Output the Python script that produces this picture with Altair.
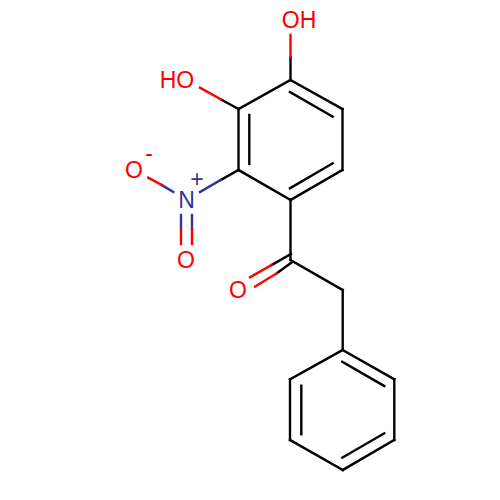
import altair as alt
import pandas as pd

BLACK, RED, NAVY = "#000000", "#ff0000", "#33339a"

# bond segments: x1, y1, x2, y2, colour
ring_a = [
    (290.5, 80, 342.5, 109, BLACK), (342.5, 109, 342.5, 170, BLACK),
    (342.5, 170, 290.5, 200, BLACK), (290.5, 200, 238.5, 170, BLACK),
    (238.5, 170, 238.5, 109, BLACK), (238.5, 109, 290.5, 80, BLACK),
    (290, 92, 332.7, 116.7, BLACK), (332.7, 163.3, 290, 188.3, BLACK),
    (249.3, 115, 249.3, 164, BLACK),
]
hydroxyls = [
    (290.5, 80, 290.5, 57, BLACK), (290.5, 57, 290.5, 35, RED),
    (238.5, 109, 220.7, 99.3, BLACK), (220.7, 99.3, 200, 87.7, RED),
]
nitro = [
    (238.5, 170, 220.7, 180, BLACK), (220.7, 180, 200, 192, NAVY),
    (173.3, 192, 161.7, 185, NAVY), (161.7, 185, 148.3, 177.7, RED),
    (181, 215, 181, 229.3, NAVY), (181, 229.3, 181, 244, RED),
    (192, 215, 192, 229.3, NAVY), (192, 229.3, 192, 244, RED),
]
linker = [
    (290.5, 200, 290.5, 260, BLACK), (290.5, 260, 342.7, 290, BLACK),
    (342.7, 290, 342.7, 350, BLACK),
    (291, 254, 271.7, 265, BLACK), (271.7, 265, 250, 277.3, RED),
    (292.7, 261.7, 276.7, 273.3, BLACK), (276.7, 273.3, 255, 286.7, RED),
]
ring_b = [
    (342.7, 350, 394.3, 379.3, BLACK), (394.3, 379.3, 394.3, 440, BLACK),
    (394.3, 440, 342.7, 470, BLACK), (342.7, 470, 290, 440, BLACK),
    (290, 440, 290, 379.3, BLACK), (290, 379.3, 342.7, 350, BLACK),
    (342.3, 361.7, 384.3, 386, BLACK), (384.3, 433.3, 342.3, 457.7, BLACK),
    (301.3, 434.3, 301.3, 385.7, BLACK),
]

# atom labels: x, y, text, colour
atom_labels = [
    (299, 20.5, "OH", RED), (177, 80.5, "HO", RED), (134, 170.5, "O", RED),
    (186.5, 200.5, "N", NAVY), (186, 260.5, "O", RED), (238, 290.5, "O", RED),
    (149, 154, "-", RED), (197, 180, "+", NAVY),
]

bonds = pd.DataFrame(ring_a + hydroxyls + nitro + linker + ring_b,
                     columns=["x", "y", "x2", "y2", "c"])
labels = pd.DataFrame(atom_labels, columns=["x", "y", "t", "c"])

xs = alt.Scale(domain=[8, 492], range=[0, 484], nice=False, zero=False)
ys = alt.Scale(domain=[8, 492], range=[0, 484], nice=False, zero=False)
X = alt.X("x:Q", scale=xs, axis=None)
Y = alt.Y("y:Q", scale=ys, axis=None)
C = alt.Color("c:N", scale=None, legend=None)

lines = alt.Chart(bonds).mark_rule(strokeWidth=2.4, strokeCap="square").encode(
    x=X, y=Y, x2="x2:Q", y2="y2:Q", color=C)
text = alt.Chart(labels).mark_text(font="Liberation Sans", fontSize=23, baseline="middle", align="center").encode(
    x=X, y=Y, text="t:N", color=C)

chart = (lines + text).properties(
    width=484, height=484, padding=0, background="white",
).configure_view(stroke=None)

chart.save("out.html", embed_options={"renderer": "svg", "actions": False})
